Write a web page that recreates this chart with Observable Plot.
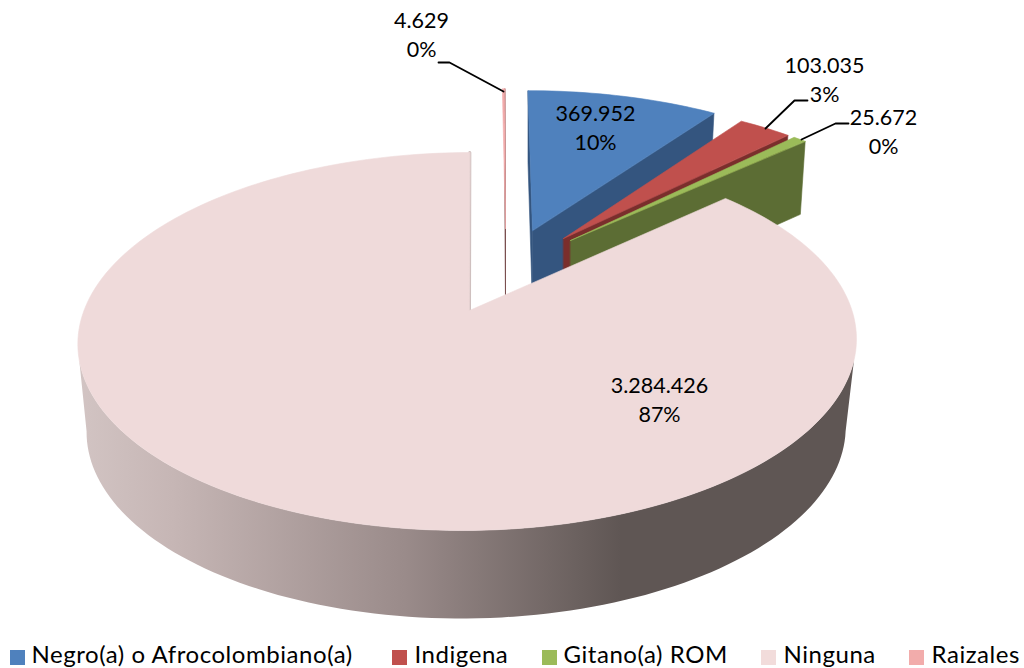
<!DOCTYPE html>
<html><head><meta charset="utf-8">
<script src="https://cdn.jsdelivr.net/npm/d3@7"></script>
<script src="https://cdn.jsdelivr.net/npm/@observablehq/plot@0.6"></script>
<style>html,body{margin:0;padding:0;background:#fff;overflow:hidden}svg{display:block}</style>
</head><body><div id="chart"></div>
<script>
// Data
const categories = ["Negro(a) o Afrocolombiano(a)", "Indigena", "Gitano(a) ROM", "Ninguna", "Raizales"];
const values = [369952, 103035, 25672, 3284426, 4629];
const percents = ["10%", "3%", "0%", "87%", "0%"];

// Colours
const topColors = ["#4f81bd", "#c0504d", "#9bbb59", "#efdada", "#f2abab"];
const faceColors = ["#34557f", "#7a2e2c", "#5c6d34", "#cfc0bf", "#7a4f4f"];
const legendColors = ["#4f81bd", "#c0504d", "#9bbb59", "#f2dcdb", "#f2acab"];

// 3D layout: perspective constants and where each exploded slice lands
const A = 183.9, B = 384, K = 0.164, XV = 500;
const near = {sx: 1, sy: 1, depth: 88, fx: 0.975, fy: 1, topDx: -1.5, lowDx: -2.5};
const far = {sx: 0.95, sy: 0.885, depth: 76, fx: 0.98, fy: 1.03, topDx: 0, lowDx: 0};
const layouts = [
  {cx: 532, cy: 230, ...far}, {cx: 563, cy: 238, ...far}, {cx: 570, cy: 240, ...far},
  {cx: 469, cy: 310, ...near}, {cx: 505, cy: 228, ...far}
];

// Label layout
const labelX = [595, 824, 883, 659, 421];
const labelY = [126, 78, 130, 397.5, 32.5];
const legendSwatchX = [10, 392, 542, 761, 909];
const legendTextX = [31, 414, 563, 783, 931];
const leaders = [
  {id: "Raizales", xs: [438, 449, 503], ys: [62, 62, 91]},
  {id: "Indigena", xs: [807, 794, 765], ys: [100, 100, 128]},
  {id: "Gitano", xs: [848, 835, 801], ys: [123, 123, 139]}
];

// Slice angles from the values
const total = d3.sum(values);
let acc = 0;
const spans = values.map(v => { const a0 = acc; acc += v / total * 360; return [a0, acc]; });

function pt(i, deg, low) {
  const L = layouts[i], r = deg * Math.PI / 180;
  const u = Math.sin(r), v = Math.cos(r), w = 1 + K * v;
  const sx = L.sx * (low ? L.fx : 1), sy = L.sy * (low ? L.fy : 1);
  const cy = L.cy + (low ? L.depth : 0);
  const dx = low ? L.lowDx : L.topDx;
  return {x: L.cx + dx + sx * B * u / w + (L.cx - XV) * (1 / w - 1), y: cy - sy * A * v / w};
}
function apex(i, low) { const L = layouts[i]; return {x: L.cx, y: L.cy + (low ? L.depth : 0)}; }
function arc(i, a0, a1, low) {
  const n = Math.max(2, Math.ceil(Math.abs(a1 - a0) / 1.5));
  return d3.range(n + 1).map(j => pt(i, a0 + (a1 - a0) * j / n, low));
}
const topFace = i => [apex(i, false), ...arc(i, spans[i][0], spans[i][1], false)];
const cutFace = (i, a) => [apex(i, false), pt(i, a, false), pt(i, a, true), apex(i, true)];
const wall = i => [...arc(i, 105, 255, false), ...arc(i, 260, 100, true)];

const poly = (pts, fill, sw = 0.6, stroke = fill) => Plot.line(pts, {x: "x", y: "y", fill, stroke, strokeWidth: sw, curve: "linear-closed"});

const fmt = d3.formatLocale({decimal: ",", thousands: ".", grouping: [3], currency: ["", ""]}).format(",");
const labels = categories.map((c, i) => ({x: labelX[i], y: labelY[i], text: fmt(values[i]) + "\n" + percents[i]}));
const legend = categories.map((c, i) => ({c, fill: legendColors[i], x: legendSwatchX[i], tx: legendTextX[i]}));

const gradient = () => {
  const d = d3.create("svg:defs");
  const g = d.append("linearGradient").attr("id", "wallGrad").attr("x1", 0).attr("x2", 1).attr("y1", 0).attr("y2", 0);
  [[0, "#d2c4c3"], [0.12, "#c6b6b5"], [0.42, "#9a8b8a"], [0.7, "#5f5654"], [1, "#5f5654"]]
    .forEach(([o, c]) => g.append("stop").attr("offset", o).attr("stop-color", c));
  return d.node();
};

const chart = Plot.plot({
  width: 1024, height: 668,
  marginTop: 0, marginRight: 0, marginBottom: 0, marginLeft: 0,
  x: {domain: [0, 1024], range: [0, 1024], axis: null},
  y: {domain: [0, 668], range: [0, 668], axis: null},
  style: {background: "#fff", overflow: "hidden"},
  marks: [
    gradient,
    // Raizales
    poly(cutFace(4, spans[4][1]), faceColors[4], 1),
    poly(topFace(4), topColors[4], 0.6),
    // Negro
    poly(cutFace(0, spans[0][0]), faceColors[0]),
    poly(cutFace(0, spans[0][1]), faceColors[0]),
    poly(topFace(0), topColors[0]),
    // Indigena
    poly(cutFace(1, spans[1][1]), faceColors[1]),
    poly(topFace(1), topColors[1]),
    // Gitano
    poly(cutFace(2, spans[2][1]), faceColors[2]),
    poly(topFace(2), topColors[2]),
    // Ninguna
    Plot.line([apex(3, false), pt(3, spans[3][1], false)], {x: "x", y: "y", stroke: faceColors[3], strokeWidth: 3}),
    poly(wall(3), "url(#wallGrad)", 0, "none"),
    poly(topFace(3), topColors[3]),
    // Leaders
    ...leaders.map(l => Plot.line(l.xs.map((x, j) => ({x, y: l.ys[j]})), {x: "x", y: "y", stroke: "#000", strokeWidth: 1.8})),
    // Data labels
    Plot.text(labels, {x: "x", y: "y", text: "text", fontFamily: "Lato", fontSize: 21.5, lineHeight: 1.35, fill: "#000", textAnchor: "middle"}),
    // Legend
    Plot.rect(legend, {x1: "x", x2: d => d.x + 15, y1: () => 650, y2: () => 665, fill: "fill"}),
    Plot.text(legend, {x: "tx", y: () => 655, text: "c", fontFamily: "Lato", fontSize: 24, fill: "#000", textAnchor: "start"})
  ]
});
chart.querySelectorAll("text").forEach(t => { if (categories.includes(t.textContent)) t.style.letterSpacing = "0.55px"; });
document.getElementById("chart").append(chart);
</script></body></html>
